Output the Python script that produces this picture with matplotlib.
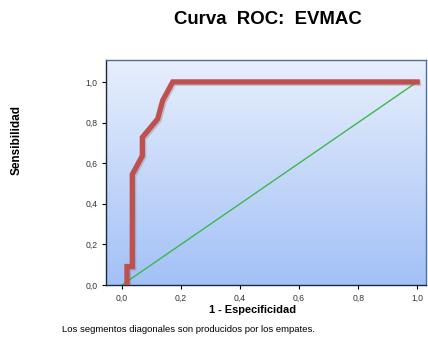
import numpy as np
import matplotlib.pyplot as plt
import matplotlib.patheffects as pe
from matplotlib.colors import LinearSegmentedColormap

plt.rcParams['font.family'] = ['Liberation Sans', 'DejaVu Sans']

# ROC curve points
fpr = [0.017, 0.017, 0.035, 0.035, 0.069, 0.069, 0.121, 0.138, 0.172, 1.0]
tpr = [0.0, 0.091, 0.091, 0.545, 0.636, 0.727, 0.818, 0.909, 1.0, 1.0]
ref_x = [0.0, 1.0]
ref_y = [0.0, 1.0]
ticks = [0.0, 0.2, 0.4, 0.6, 0.8, 1.0]
tick_labels = ['0,0', '0,2', '0,4', '0,6', '0,8', '1,0']

fig = plt.figure(figsize=(4.28, 3.38), dpi=100)
ax = fig.add_axes([0.2477, 0.1568, 0.7477, 0.6657])
ax.set_xlim(-0.054, 1.03)
ax.set_ylim(0.0, 1.108)

# gradient background
grad = np.linspace(0, 1, 256).reshape(-1, 1)
cmap = LinearSegmentedColormap.from_list('bg', ['#a3c1f7', '#e8effc'])
ax.imshow(grad, aspect='auto', cmap=cmap, origin='lower',
          extent=[-0.054, 1.03, 0.0, 1.108], zorder=0)

ax.plot(ref_x, ref_y, color='#3cb84a', lw=1.0, zorder=2)
ax.plot(fpr, tpr, color='#c0504d', lw=3.8, solid_joinstyle='miter', zorder=3,
        path_effects=[pe.SimpleLineShadow(offset=(1.0, -1.0), shadow_color='#555555', alpha=0.25),
                      pe.Normal()])

ax.set_xticks(ticks)
ax.set_xticklabels(tick_labels)
ax.set_yticks(ticks)
ax.set_yticklabels(tick_labels)
ax.tick_params(labelsize=6.2, length=3, width=0.8, colors='black',
               labelcolor='#333333', pad=3)
for s in ax.spines.values():
    s.set_color('#4a6fa0')
    s.set_linewidth(1.0)
ax.spines['left'].set_color('#1a2a3a')
ax.spines['bottom'].set_color('#1a2a3a')

fig.text(0.627, 0.941, 'Curva  ROC:  EVMAC', ha='center', va='center',
         fontsize=13.4, fontweight='bold')
fig.text(0.589, 0.083, '1 - Especificidad', ha='center', va='center',
         fontsize=7.9, fontweight='bold')
fig.text(0.040, 0.585, 'Sensibilidad', ha='center', va='center', rotation=90,
         fontsize=8.5, fontweight='bold')
fig.text(0.145, 0.025, 'Los segmentos diagonales son producidos por los empates.',
         ha='left', va='center', fontsize=6.8)

fig.savefig('out.png', dpi=100)
